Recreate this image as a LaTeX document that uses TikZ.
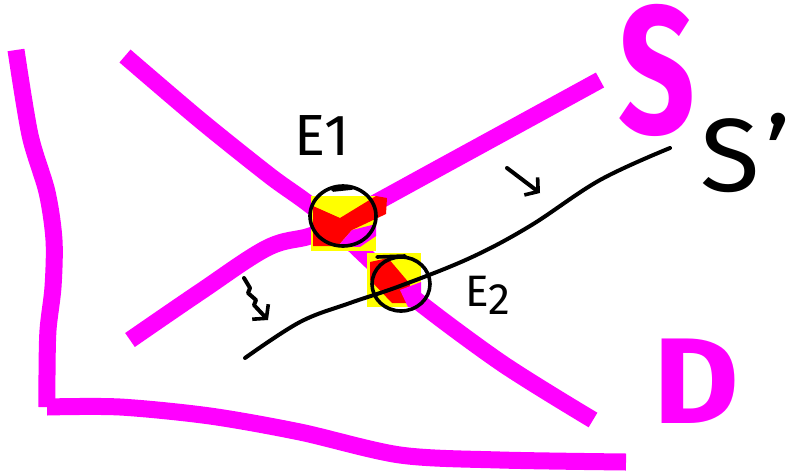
\documentclass[tikz,border=0pt]{standalone}
\usepackage{fontspec}
\setsansfont{Fira Sans}
\usetikzlibrary{arrows.meta}
\definecolor{mPink}{HTML}{FF00FF}
\definecolor{mRed}{HTML}{FF0000}
\definecolor{mYellow}{HTML}{FFFF00}

\begin{document}
\begin{tikzpicture}[x=1pt, y=-1pt,
      curve/.style={draw=mPink, line width=17pt, line join=round},
      thin/.style={draw=black, line width=4pt, line cap=round, line join=round},
      ring/.style={thin, line width=3.6pt},
      inked/.style={font=\sffamily\bfseries, text=mPink, inner sep=0pt},
      penned/.style={font=\sffamily, text=black, inner sep=0pt},
      shiftarr/.style={thin, -{Straight Barb[length=9pt, width=22pt, line width=3.6pt]}}]
    \useasboundingbox (0,0) rectangle (803,472);
    % axes
    \draw[curve] plot[smooth, tension=0.5] coordinates
      {(16,50) (30,135) (47,192) (54,240) (53,287) (48,330) (47,375) (47,407)};
    \draw[curve] plot[smooth, tension=0.5] coordinates
      {(47,407) (120,407) (210,416) (300,432) (400,455) (500,460) (626,462)};
    % demand
    \draw[curve] plot[smooth, tension=0.5] coordinates
      {(125,56) (200,120) (270,176) (320,213) (400,287) (500,362) (593,420)};
    % supply
    \draw[curve] plot[smooth, tension=0.6] coordinates
      {(130,340) (200,292) (267,248) (310,236) (340,222) (450,162) (600,80)};
    % highlights
    \fill[mYellow] (311,196) rectangle (376,251);
    \fill[mRed] (313,206) -- (340,218) -- (376,196) -- (387,198) -- (386,214)
      -- (352,230) -- (338,246) -- (313,246) -- cycle;
    \fill[mPink] (338,246) -- (352,230) -- (376,224) -- (376,236) -- (360,247) -- cycle;
    \fill[mYellow] (367,253) rectangle (421,307);
    \fill[mRed] (370,262) -- (388,258) -- (410,284) -- (408,303) -- (392,303)
      -- (370,280) -- cycle;
    \fill[mPink] (400,290) -- (421,282) -- (421,307) -- (408,307) -- cycle;
    % shifted supply
    \draw[thin] plot[smooth, tension=0.6] coordinates
      {(245,358) (300,322) (350,303) (400,286) (470,258) (530,226) (600,180) (670,148)};
    % equilibrium rings
    \draw[ring] (343,216) ellipse [x radius=33pt, y radius=30pt];
    \draw[ring] (333,190) -- (352,188);
    \draw[ring] (401,284) ellipse [x radius=29pt, y radius=27pt];
    \draw[ring] (377,257) -- (405,256);
    % labels
    \node[penned, font=\sffamily\fontsize{58}{58}\selectfont] (e1) at (322,136) {E1};
    \node[penned, font=\sffamily\fontsize{44}{44}\selectfont] (e2) at (488,295)
      {E\raisebox{-0.35ex}{2}};
    \node[inked, font=\sffamily\bfseries\fontsize{182}{182}\selectfont, xscale=0.74]
      (s) at (657,70) {S};
    \node[penned, font=\sffamily\fontsize{104}{104}\selectfont, xscale=1.05, anchor=west]
      (s2) at (700,153) {S\kern6pt'};
    \node[inked, font=\sffamily\bfseries\fontsize{122}{122}\selectfont, xscale=1.08]
      (d) at (696,381) {D};
    % shift arrows
    \coordinate (a1) at (244,278);
    \coordinate (b1) at (268,320);
    \coordinate (a2) at (507,168);
    \coordinate (b2) at (540,193);
    \draw[shiftarr] (a1) -- (250,288) -- (248,293) -- (256,300) -- (254,305) -- (b1);
    \draw[shiftarr] (a2) -- (b2);
  \end{tikzpicture}
\end{document}
